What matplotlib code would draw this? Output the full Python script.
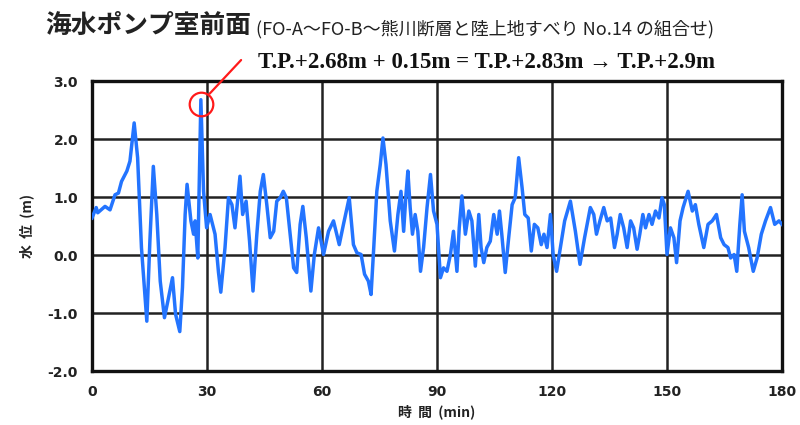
import matplotlib
matplotlib.use("Agg")
import matplotlib.pyplot as plt

plt.rcParams['font.family'] = ['Noto Sans CJK JP', 'DejaVu Sans']

# Water level time history (minutes, metres)
time_min = [0.0, 1.1, 1.5, 3.4, 4.7, 6.0, 6.9, 7.7, 9.1, 9.9, 11.0, 11.9, 12.9, 14.3, 15.1,
            16.0, 16.9, 17.8, 18.9, 19.8, 21.0, 21.8, 22.9, 23.6, 24.3, 24.8, 25.8, 26.5,
            26.9, 27.6, 28.4, 29.1, 29.9, 30.8, 32.1, 33.0, 33.6, 34.7, 35.6, 36.5, 37.3,
            38.6, 39.3, 40.2, 41.1, 42.0, 43.0, 43.9, 44.7, 45.6, 46.5, 47.4, 48.2, 49.1,
            49.9, 50.7, 51.7, 52.6, 53.4, 54.3, 55.0, 55.9, 57.1, 58.0, 59.1, 60.4, 61.7,
            63.0, 64.5, 65.6, 67.1, 68.2, 69.1, 70.2, 71.1, 72.1, 72.8, 73.5, 74.3, 75.2,
            75.9, 76.7, 77.8, 78.9, 79.8, 80.6, 81.3, 81.9, 82.4, 83.0, 83.6, 84.3, 85.0,
            85.7, 86.5, 87.4, 88.3, 89.1, 90.0, 90.9, 91.7, 92.6, 93.5, 94.3, 95.2, 95.8,
            96.5, 97.4, 98.3, 99.1, 100.0, 100.9, 101.5, 102.2, 103.0, 103.9, 104.8, 105.7,
            106.3, 106.9, 107.8, 108.7, 109.6, 110.4, 111.3, 112.2, 112.9, 113.8, 114.6,
            115.4, 116.3, 117.2, 117.9, 118.7, 119.6, 120.3, 121.2, 122.2, 123.3, 124.8,
            126.1, 127.3, 128.5, 130.0, 130.9, 131.6, 132.5, 133.5, 134.4, 135.3, 136.3,
            137.0, 137.8, 138.7, 139.6, 140.5, 141.3, 142.2, 142.9, 143.7, 144.4, 145.3,
            146.1, 147.0, 147.9, 148.7, 149.3, 150.0, 150.9, 151.8, 152.5, 153.4, 154.2,
            155.5, 156.6, 157.4, 158.3, 159.6, 160.7, 161.8, 162.9, 164.0, 164.9, 165.9,
            166.6, 167.5, 168.2, 169.0, 169.6, 170.2, 171.3, 172.5, 173.5, 174.6, 175.7,
            177.0, 178.1, 179.2, 180.0]
water_level = [0.64, 0.82, 0.73, 0.84, 0.78, 1.04, 1.07, 1.27, 1.45, 1.62, 2.28, 1.68, 0.13,
               -1.14, 0.24, 1.53, 0.70, -0.45, -1.08, -0.79, -0.39, -1.02, -1.32, -0.56, 0.70,
               1.22, 0.59, 0.36, 0.59, -0.05, 2.68, 1.10, 0.47, 0.70, 0.36, -0.30, -0.64,
               0.13, 0.99, 0.87, 0.47, 1.36, 0.70, 0.93, 0.24, -0.62, 0.36, 1.10, 1.39, 0.87,
               0.30, 0.41, 0.93, 0.99, 1.10, 0.99, 0.36, -0.22, -0.30, 0.53, 0.84, 0.30,
               -0.62, 0.01, 0.47, 0.01, 0.41, 0.59, 0.18, 0.53, 0.99, 0.18, 0.04, 0.01,
               -0.33, -0.45, -0.68, 0.13, 1.10, 1.56, 2.02, 1.56, 0.59, 0.07, 0.70, 1.10,
               0.41, 1.04, 1.45, 0.82, 0.36, 0.70, 0.41, -0.28, 0.13, 0.82, 1.39, 0.76, 0.53,
               -0.39, -0.22, -0.28, 0.01, 0.41, -0.28, 0.47, 1.02, 0.36, 0.76, 0.59, -0.19,
               0.70, 0.13, -0.13, 0.13, 0.24, 0.70, 0.36, 0.76, 0.36, -0.30, 0.30, 0.87,
               0.99, 1.68, 1.16, 0.70, 0.64, 0.07, 0.53, 0.47, 0.18, 0.36, 0.13, 0.70, 0.01,
               -0.28, 0.13, 0.59, 0.93, 0.41, -0.16, 0.30, 0.82, 0.70, 0.36, 0.59, 0.82,
               0.59, 0.64, 0.13, 0.36, 0.70, 0.47, 0.13, 0.59, 0.47, 0.10, 0.36, 0.70, 0.47,
               0.70, 0.53, 0.76, 0.64, 0.99, 0.87, 0.01, 0.47, 0.30, -0.13, 0.59, 0.82, 1.10,
               0.76, 0.87, 0.53, 0.13, 0.53, 0.59, 0.70, 0.30, 0.18, 0.13, -0.05, 0.01, -0.28,
               0.53, 1.04, 0.41, 0.13, -0.28, -0.05, 0.36, 0.59, 0.82, 0.53, 0.59, 0.53]

x_ticks = [0, 30, 60, 90, 120, 150, 180]
y_ticks = [-2.0, -1.0, 0.0, 1.0, 2.0, 3.0]

peak_time = 28.4
peak_level = 2.68

title_text = "海水ポンプ室前面"
subtitle_text = "(FO-A～FO-B～熊川断層と陸上地すべり No.14 の組合せ)"
peak_text = "T.P.+2.68m + 0.15m = T.P.+2.83m → T.P.+2.9m"

fig = plt.figure(figsize=(8.0, 4.25), dpi=100)
ax = fig.add_axes([0.115, 0.127, 0.8625, 0.682])

ax.plot(time_min, water_level, color="#2374ff", lw=2.5, zorder=3, solid_joinstyle="round")

ax.set_xlim(0, 180)
ax.set_ylim(-2.0, 3.0)
ax.set_xticks(x_ticks)
ax.set_yticks(y_ticks)
ax.set_xticklabels([str(t) for t in x_ticks])
ax.set_yticklabels([f"{v:.1f}" for v in y_ticks])
ax.grid(True, color="#222222", lw=1.8)
ax.set_axisbelow(True)
for sp in ax.spines.values():
    sp.set_linewidth(2.4)
    sp.set_color("#111111")
ax.tick_params(length=0, pad=10, labelsize=10, labelcolor="#222222")
for lab in ax.get_xticklabels() + ax.get_yticklabels():
    lab.set_fontweight("bold")
    lab.set_family(["DejaVu Sans"])

ax.set_xlabel("時  間  (min)", fontsize=10, fontweight="bold", labelpad=4, color="#222222")
ax.set_ylabel("水  位  (m)", fontsize=10, fontweight="bold", labelpad=10, color="#222222")

# Peak marker with leader line to the note
ax.plot([peak_time], [peak_level - 0.08], marker="o", ms=17, mfc="none", mec="#ff1a1a",
        mew=1.6, zorder=4, clip_on=False)
ax.annotate("", xy=(peak_time + 1.8, peak_level + 0.07), xycoords="data",
            xytext=(243 / 800, 1 - 58 / 425), textcoords="figure fraction",
            arrowprops=dict(arrowstyle="-", color="#ff1a1a", lw=1.6), zorder=4)

fig.text(258 / 800, 1 - 63 / 425, peak_text, fontsize=16.5, fontweight="bold",
         family=["Liberation Serif", "DejaVu Serif"], va="center", ha="left", color="#111111")
fig.text(45 / 800, 1 - 25 / 425, title_text, fontsize=18.5, fontweight="bold",
         va="center", ha="left", color="#222222")
fig.text(256 / 800, 1 - 29 / 425, subtitle_text, fontsize=13,
         va="center", ha="left", color="#222222")

fig.savefig("out.png", dpi=100, facecolor="white")
